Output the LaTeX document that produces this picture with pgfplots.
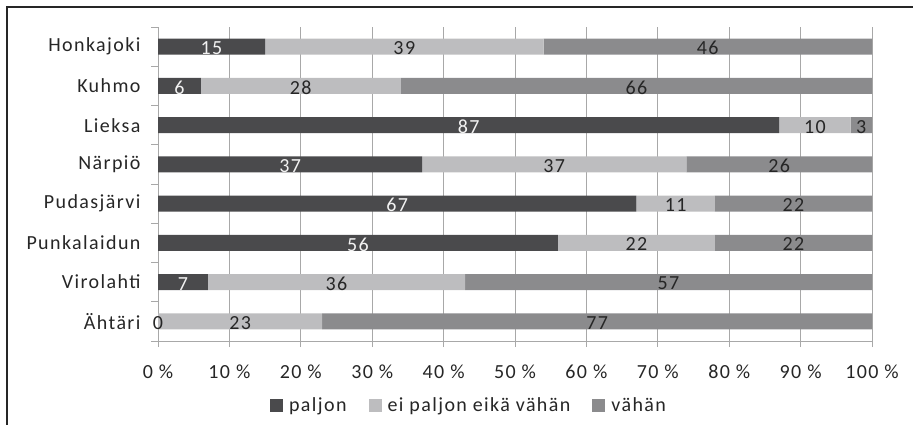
\documentclass[border=0pt]{standalone}
\usepackage{pgfplots}
\pgfplotsset{compat=1.18}
\usepackage{pgfplotstable}
\usepackage{fontspec}
\setmainfont{Carlito}[LetterSpace=7]
\definecolor{cDark}{HTML}{4A4A4C}
\definecolor{cLight}{HTML}{BDBDBF}
\definecolor{cMid}{HTML}{8B8B8D}
\definecolor{cGrid}{HTML}{A8A8A8}
\definecolor{cText}{HTML}{262626}

\pgfplotstableread{
idx p e v
0 15 39 46
1 6 28 66
2 87 10 3
3 37 37 26
4 67 11 22
5 56 22 22
6 7 36 57
7 0 23 77
}\datatable

\newcommand{\chfont}{\fontsize{20}{24}\selectfont}

\pgfplotsset{geom/.style={
  at={(158pt,84pt)}, anchor=south west,
  scale only axis, width=714pt, height=314pt,
  xmin=0, xmax=100, ymin=-0.5, ymax=7.5, y dir=reverse,
  /pgf/number format/assume math mode=true,
  nodes near coords style={font=\chfont, yshift=-1.5pt},
}}

\begin{document}
\begin{tikzpicture}[font=\chfont]
\useasboundingbox (0pt,0pt) rectangle (913pt,425pt);
\draw[line width=1.5pt, black!85] (7pt,0pt) -- (7pt,418pt) -- (913pt,418pt);
\begin{axis}[
  geom,
  xbar stacked, bar width=16pt,
  axis x line*=bottom, axis y line*=left,
  axis line style={cGrid, line width=1pt},
  xtick={0,10,...,100},
  xticklabels={0 \%,10 \%,20 \%,30 \%,40 \%,50 \%,60 \%,70 \%,80 \%,90 \%,100 \%},
  xmajorgrids, major grid style={cGrid, line width=1pt},
  ytick={0,...,7},
  yticklabels={Honkajoki,Kuhmo,Lieksa,Närpiö,Pudasjärvi,Punkalaidun,Virolahti,Ähtäri},
  minor ytick={-0.5,0.5,...,7.5},
  major y tick style={draw=none},
  minor y tick style={cGrid, line width=1pt},
  major x tick style={cGrid, line width=1pt},
  tick align=outside, major tick length=6pt, minor tick length=7pt,
  tick label style={font=\chfont, text=cText},
  yticklabel style={xshift=-8pt},
  xticklabel style={yshift=-14pt},
  legend columns=3,
  legend style={draw=none, font=\chfont, text=cText, at={(0.4356,-0.204)}, anchor=center,
    /tikz/every odd column/.append style={column sep=4pt},
    /tikz/every even column/.append style={column sep=20pt}},
  legend image code/.code={\draw[#1,draw=none] (0pt,-6.5pt) rectangle (13pt,6.5pt);},
]
\addplot[fill=cDark, draw=none,
  visualization depends on={\thisrow{p} \as \val},
  nodes near coords={\ifdim\val pt>0.5pt\pgfmathprintnumber{\val}\fi},
  every node near coord/.append style={text=white!95!black, anchor=center}]
  table[x=p, y=idx] {\datatable};
\addplot[fill=cLight, draw=none,
  visualization depends on={\thisrow{e} \as \val},
  nodes near coords={\pgfmathprintnumber{\val}},
  every node near coord/.append style={text=cText, anchor=center}]
  table[x=e, y=idx] {\datatable};
\addplot[fill=cMid, draw=none,
  visualization depends on={\thisrow{v} \as \val},
  nodes near coords={\pgfmathprintnumber{\val}},
  every node near coord/.append style={text=cText, anchor=center}]
  table[x=v, y=idx] {\datatable};
\legend{paljon, ei paljon eikä vähän, vähän}
\end{axis}
\begin{axis}[geom, hide axis]
\addplot[draw=none, mark=none, nodes near coords, point meta=explicit symbolic,
  every node near coord/.append style={text=cText, anchor=center}]
  coordinates {(0,7) [0]};
\end{axis}
\end{tikzpicture}
\end{document}
